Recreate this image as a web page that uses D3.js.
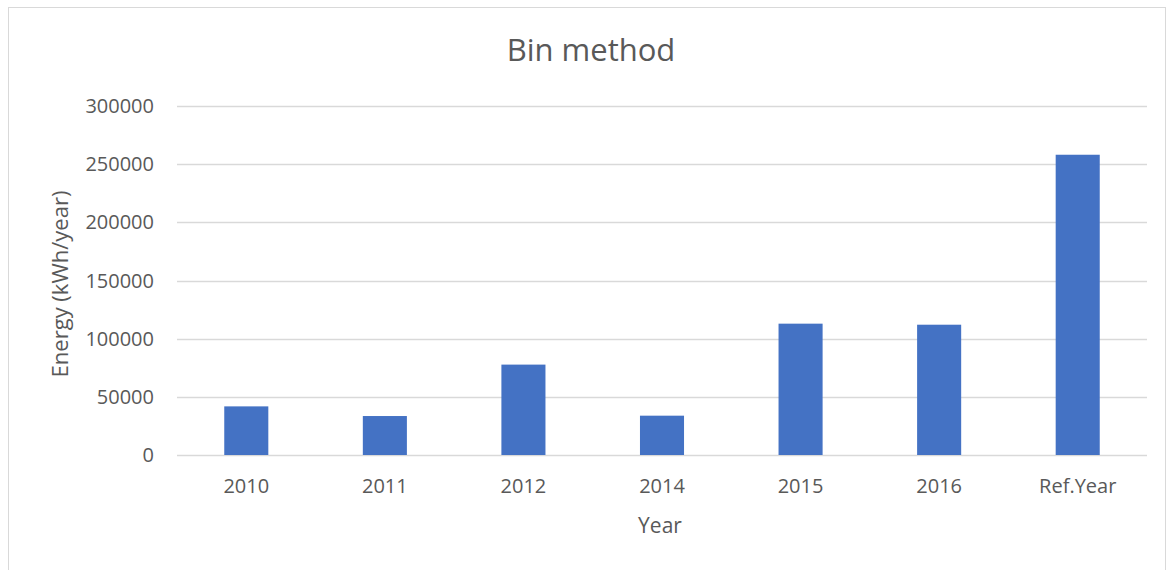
<!DOCTYPE html>
<html>
<head>
<meta charset="utf-8">
<script src="https://cdn.jsdelivr.net/npm/d3@7"></script>
<style>
  body { margin: 0; background: #fff; }
  text { font-family: "Open Sans", sans-serif; fill: #595959; }
</style>
</head>
<body>
<svg></svg>
<script>
var width = 1170;
var height = 570;

var years = ["2010", "2011", "2012", "2014", "2015", "2016", "Ref.Year"];
var energy = [41800, 33500, 77700, 33800, 112900, 112000, 258100];
var yTicks = [0, 50000, 100000, 150000, 200000, 250000, 300000];

var margin = {left: 177, right: 23, top: 106, bottom: 115};

var svg = d3.select("svg")
      .attr("width", width)
      .attr("height", height);

// chart border
svg.append("rect")
    .attr("x", 8.5).attr("y", 7.5)
    .attr("width", 1157).attr("height", 580)
    .attr("fill", "none")
    .attr("stroke", "#d9d9d9");

var x = d3.scaleBand()
      .domain(years)
      .range([margin.left, width - margin.right])
      .paddingInner(0.682)
      .paddingOuter(0.341);

var y = d3.scaleLinear()
      .domain([0, 300000])
      .range([height - margin.bottom, margin.top]);

// gridlines
svg.append("g")
    .selectAll("line")
    .data(yTicks)
    .enter()
    .append("line")
    .attr("x1", margin.left)
    .attr("x2", width - margin.right)
    .attr("y1", function(d){ return Math.round(y(d)) + 0.5; })
    .attr("y2", function(d){ return Math.round(y(d)) + 0.5; })
    .attr("stroke", "#d9d9d9")
    .attr("stroke-width", 1.3);

// y tick labels
svg.append("g")
    .selectAll("text")
    .data(yTicks)
    .enter()
    .append("text")
    .attr("x", 154)
    .attr("y", function(d){ return y(d); })
    .attr("dy", "0.35em")
    .attr("text-anchor", "end")
    .style("font-size", "20px")
    .text(function(d){ return d; });

// bars
svg.append("g")
    .selectAll("rect")
    .data(energy)
    .enter()
    .append("rect")
    .attr("x", function(d, i){ return x(years[i]); })
    .attr("width", x.bandwidth())
    .attr("y", function(d){ return y(d); })
    .attr("height", function(d){ return y(0) - y(d); })
    .attr("fill", "#4472c4");

// x tick labels
svg.append("g")
    .selectAll("text")
    .data(years)
    .enter()
    .append("text")
    .attr("x", function(d){ return x(d) + x.bandwidth() / 2; })
    .attr("y", 493)
    .attr("text-anchor", "middle")
    .style("font-size", "20px")
    .text(function(d){ return d; });

// title
svg.append("text")
    .attr("x", 591)
    .attr("y", 61)
    .attr("text-anchor", "middle")
    .style("font-size", "31px")
    .text("Bin method");

// axis titles
svg.append("text")
    .attr("x", 660)
    .attr("y", 533)
    .attr("text-anchor", "middle")
    .style("font-size", "21px")
    .text("Year");

svg.append("text")
    .attr("transform", "translate(68," + 284 + ") rotate(-90)")
    .attr("text-anchor", "middle")
    .style("font-size", "22px")
    .text("Energy (kWh/year)");
</script>
</body>
</html>
